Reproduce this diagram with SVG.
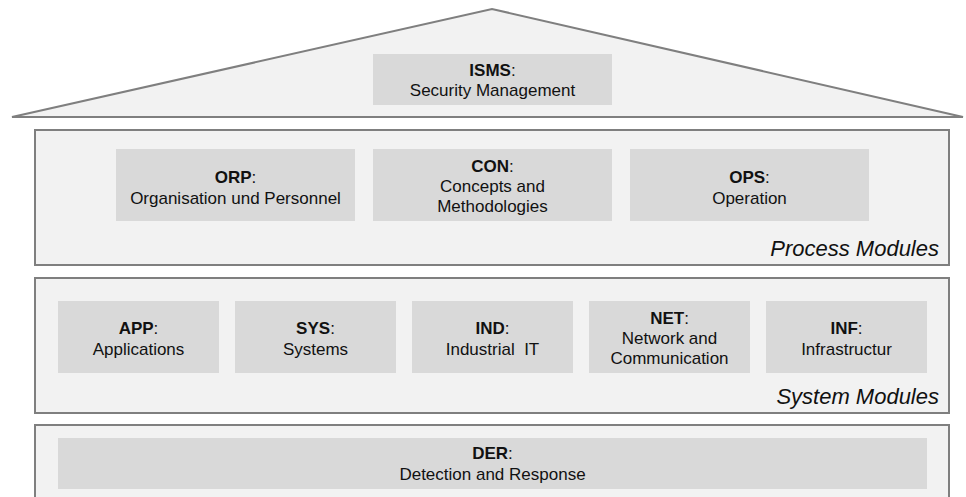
<svg xmlns="http://www.w3.org/2000/svg" width="966" height="497" viewBox="0 0 966 497">
<style>
.layer{fill:#f2f2f2;stroke:#7f7f7f;stroke-width:2}
.mod{fill:#d9d9d9;stroke:none}
text{font-family:"Liberation Sans",Arial,sans-serif;font-size:17px;fill:#111;text-anchor:middle}
.b{font-weight:bold}
.cap{font-size:22px;font-style:italic;text-anchor:end}
</style>
<rect width="966" height="497" fill="#ffffff"/>
<g id="roof">
<polygon class="layer" points="12,117 492,9 963,117"/>
</g>
<g id="ISMS">
<rect class="mod" x="373" y="54" width="239" height="51"/>
<text x="492.5" y="76"><tspan class="b">ISMS</tspan>:</text>
<text x="492.5" y="96">Security Management</text>
</g>
<g id="process-layer">
<rect class="layer" x="35" y="130" width="914" height="135"/>
<text class="cap" x="939" y="256">Process Modules</text>
</g>
<g id="ORP">
<rect class="mod" x="116" y="149" width="239" height="72"/>
<text x="235.5" y="183"><tspan class="b">ORP</tspan>:</text>
<text x="235.5" y="203.5">Organisation und Personnel</text>
</g>
<g id="CON">
<rect class="mod" x="373" y="149" width="239" height="72"/>
<text x="492.5" y="172"><tspan class="b">CON</tspan>:</text>
<text x="492.5" y="192">Concepts and</text>
<text x="492.5" y="212">Methodologies</text>
</g>
<g id="OPS">
<rect class="mod" x="630" y="149" width="239" height="72"/>
<text x="749.5" y="183"><tspan class="b">OPS</tspan>:</text>
<text x="749.5" y="203.5">Operation</text>
</g>
<g id="system-layer">
<rect class="layer" x="35" y="278" width="914" height="135"/>
<text class="cap" x="939" y="404">System Modules</text>
</g>
<g id="APP">
<rect class="mod" x="58" y="301" width="161" height="72"/>
<text x="138.5" y="334"><tspan class="b">APP</tspan>:</text>
<text x="138.5" y="354.5">Applications</text>
</g>
<g id="SYS">
<rect class="mod" x="235" y="301" width="161" height="72"/>
<text x="315.5" y="334"><tspan class="b">SYS</tspan>:</text>
<text x="315.5" y="354.5">Systems</text>
</g>
<g id="IND">
<rect class="mod" x="412" y="301" width="161" height="72"/>
<text x="492.5" y="334"><tspan class="b">IND</tspan>:</text>
<text x="492.5" y="354.5" xml:space="preserve">Industrial  IT</text>
</g>
<g id="NET">
<rect class="mod" x="589" y="301" width="161" height="72"/>
<text x="669.5" y="324"><tspan class="b">NET</tspan>:</text>
<text x="669.5" y="344">Network and</text>
<text x="669.5" y="364">Communication</text>
</g>
<g id="INF">
<rect class="mod" x="766" y="301" width="161" height="72"/>
<text x="846.5" y="334"><tspan class="b">INF</tspan>:</text>
<text x="846.5" y="354.5">Infrastructur</text>
</g>
<g id="der-layer">
<rect class="layer" x="35" y="425" width="914" height="90"/>
</g>
<g id="DER">
<rect class="mod" x="58" y="438" width="869" height="51"/>
<text x="492.5" y="459"><tspan class="b">DER</tspan>:</text>
<text x="492.5" y="480">Detection and Response</text>
</g>
<g id="connectors"></g>
</svg>
